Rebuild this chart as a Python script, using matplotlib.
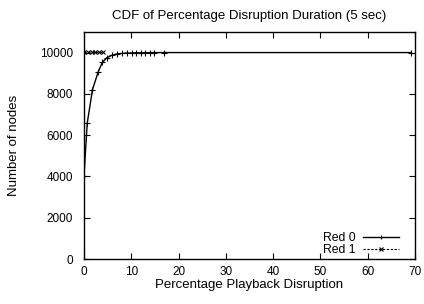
import matplotlib
matplotlib.use("Agg")
import matplotlib.pyplot as plt

plt.rcParams['font.family'] = ['Liberation Sans', 'DejaVu Sans']

title = "CDF of Percentage Disruption Duration (5 sec)"
xlabel = "Percentage Playback Disruption"
ylabel = "Number of nodes"

red0_x = [0, 0.7, 1.8, 3.0, 3.9, 4.8, 5.9, 6.9, 8.0, 9.0, 10.1, 11.1, 12.0, 13.0, 13.9, 14.9, 17.0, 69.1]
red0_y = [4000, 6590, 8200, 9060, 9530, 9740, 9870, 9930, 9960, 9975, 9985, 9990, 9993, 9995, 9997, 9998, 10000, 10000]
red1_x = [0, 0.8, 1.6, 2.4, 3.2, 4.0]
red1_y = [10040, 10040, 10040, 10040, 10040, 10040]

xticks = [0, 10, 20, 30, 40, 50, 60, 70]
yticks = [0, 2000, 4000, 6000, 8000, 10000]

fig = plt.figure(figsize=(4.24, 3.04), dpi=100)
ax = fig.add_axes([0.198, 0.148, 0.781, 0.747])

ax.plot(red0_x, red0_y, color='black', lw=1.0, marker='+', ms=4, mew=0.8, label='Red 0')
ax.plot(red1_x, red1_y, color='black', lw=0.8, ls=(0, (2, 1.5)), marker='x', ms=3, mew=0.8, label='Red 1')

ax.set_xlim(0, 70)
ax.set_ylim(0, 11000)
ax.set_xticks(xticks)
ax.set_yticks(yticks)
ax.tick_params(direction='in', top=True, right=True, length=4, width=0.8, labelsize=8.5, colors='black', pad=5)
ax.tick_params(axis='y', pad=8)
for s in ax.spines.values():
    s.set_linewidth(1.0)

ax.set_title(title, fontsize=9.5, pad=9)
ax.set_xlabel(xlabel, fontsize=9.5, labelpad=1)
ax.set_ylabel(ylabel, fontsize=9.5, labelpad=14)

leg = ax.legend(loc='lower right', fontsize=8.8, frameon=False, markerfirst=False,
                handlelength=3.0, handletextpad=0.6, borderaxespad=0.0, labelspacing=0.0,
                bbox_to_anchor=(0.967, -0.01))
for h in leg.legend_handles:
    h.set_markersize(2.5)

fig.savefig('out.png', dpi=100)
